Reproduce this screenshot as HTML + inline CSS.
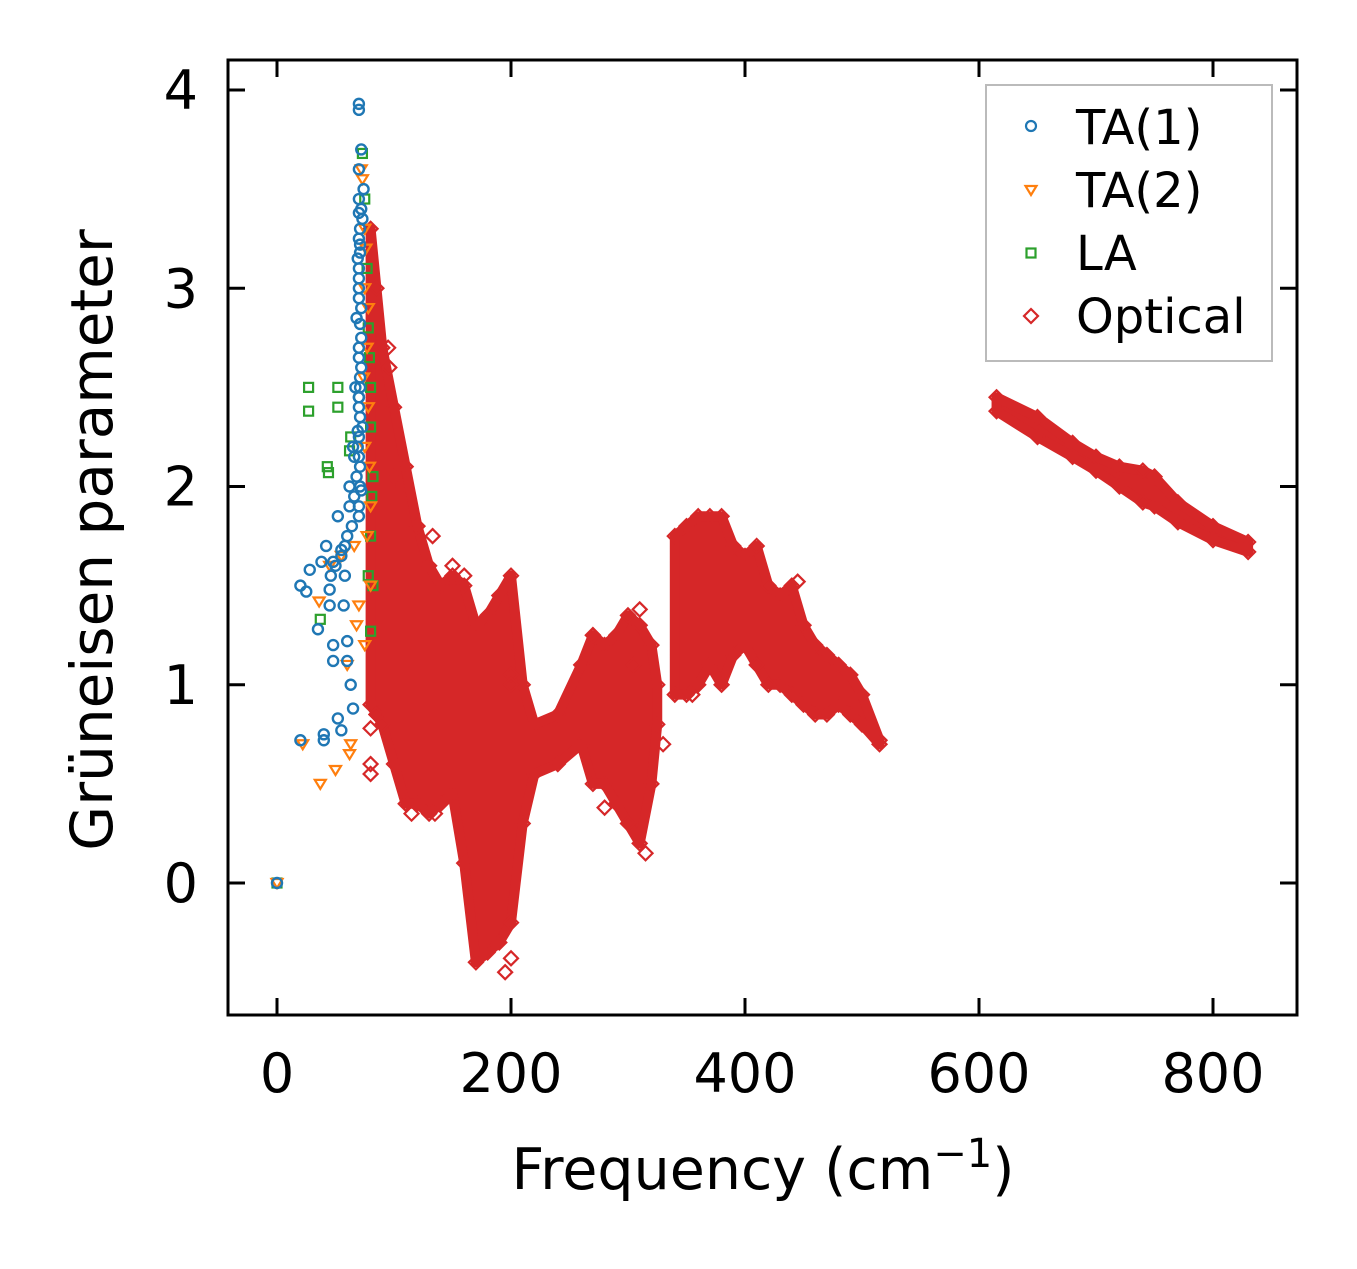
<!DOCTYPE html>
<html><head><meta charset="utf-8">
<style>
html,body{margin:0;padding:0;background:#fff;}
svg text{font-family:"DejaVu Sans","Liberation Sans",sans-serif;fill:#000;}
</style></head>
<body>
<svg id="chart" width="1357" height="1264" viewBox="0 0 1357 1264" xmlns="http://www.w3.org/2000/svg">
<g id="marks"></g>
<g id="axes"></g>
</svg>
<script>
const xTicks=[0,200,400,600,800];
const yTicks=[0,1,2,3,4];
const ta1F=[0,20,20,25,28,35,38,40,40,42,45,45,48,48,48,52,52,55,55,57,58,60,60,62,63,65,65,67,68,70,70,70,70,72,72,72,73,71,70,72,74,70,71,69,70,72,71,70,69,68,66,64,60,58,55,50,46,62,66,70,73,70,70,71,71,70,70,71,70,70,71,70,71,69,70,70,71,72,70];
const ta1G=[0,1.5,0.72,1.47,1.58,1.28,1.62,0.75,0.72,1.7,1.48,1.4,1.62,1.2,1.12,0.83,1.85,1.68,0.77,1.4,1.55,1.22,1.12,2.0,1.0,0.88,2.2,2.5,2.85,3.9,3.93,3.25,3.1,3.4,2.9,2.6,2.3,2.1,1.9,3.7,3.5,3.6,3.3,3.15,3.0,2.75,2.55,2.4,2.2,2.05,1.95,1.8,1.75,1.7,1.65,1.6,1.55,1.9,2.15,2.45,3.35,3.45,3.38,3.22,3.18,3.05,2.95,2.82,2.7,2.65,2.5,2.45,2.35,2.28,2.25,2.15,2.0,1.98,1.85];
const ta2F=[0,22,37,50,62,63,36,45,55,68,72,73,75,75,77,78,75,80,80,70,75,78,76,74,79,77,60,66];
const ta2G=[0,0.7,0.5,0.57,0.65,0.7,1.42,1.6,1.65,1.3,3.6,3.55,3.3,3.0,2.7,2.4,2.2,1.9,1.5,1.4,1.2,2.9,3.2,2.55,2.1,1.75,1.1,1.7];
const laF=[0,27,27,52,52,43,44,37,62,63,73,75,77,78,80,80,82,80,82,80,78,79,81];
const laG=[0,2.5,2.38,2.5,2.4,2.1,2.07,1.33,2.18,2.25,3.68,3.45,3.1,2.8,2.5,2.3,2.05,1.75,1.5,1.27,1.55,2.65,1.95];
const optBands=[
 {f:[80,85,90,100,110,120,130,140,150,160,170,180,190,200,210,220,240,260,270,280,290,300,310,320,325],
  lo:[0.9,0.85,0.8,0.6,0.4,0.4,0.35,0.4,0.45,0.1,-0.4,-0.35,-0.3,-0.2,0.3,0.55,0.6,0.7,0.5,0.5,0.4,0.3,0.2,0.5,0.8],
  hi:[3.3,3.0,2.7,2.4,2.1,1.8,1.6,1.5,1.55,1.5,1.3,1.35,1.45,1.55,1.0,0.8,0.85,1.1,1.25,1.2,1.25,1.35,1.3,1.2,1.0]},
 {f:[340,350,360,370,380,390,400,410,420,430,440,450,460,470,480,490,500,515],
  lo:[0.95,0.95,1.0,1.1,1.0,1.15,1.2,1.1,1.0,1.0,0.95,0.9,0.85,0.85,0.9,0.85,0.8,0.7],
  hi:[1.75,1.8,1.85,1.85,1.85,1.7,1.65,1.7,1.5,1.45,1.5,1.3,1.2,1.15,1.1,1.05,0.95,0.72]},
 {f:[615,650,680,700,720,740,750,770,800,830],
  lo:[2.38,2.25,2.15,2.08,2.0,1.92,1.9,1.82,1.73,1.67],
  hi:[2.45,2.35,2.22,2.15,2.1,2.08,2.05,1.92,1.8,1.72]}
];
const optOutF=[80,80,95,96,120,133,150,160,310,200,115,135,195,200,315,280,355,445,200,80,330,85,100,108,270,305];
const optOutG=[0.55,0.6,2.7,2.6,1.8,1.75,1.6,1.55,1.38,1.05,0.35,0.35,-0.45,-0.38,0.15,0.38,0.95,1.52,1.0,0.78,0.7,0.85,2.05,2.0,1.25,1.1];

const X0=228,X1=1297,Y0=60,Y1=1015;
function xs(v){return 277+v*1.17;}
function ys(v){return 883-v*198.25;}
const NS="http://www.w3.org/2000/svg";
const marks=document.getElementById('marks');
const axes=document.getElementById('axes');
function mk(tag,attrs,parent){const e=document.createElementNS(NS,tag);for(const k in attrs)e.setAttribute(k,attrs[k]);parent.appendChild(e);return e;}
const RED='#d62728',BLUE='#1f77b4',ORANGE='#ff7f0e',GREEN='#2ca02c';
function diamond(cx,cy,c,p){const s=7;return mk('polygon',{points:`${cx},${cy-s} ${cx+s},${cy} ${cx},${cy+s} ${cx-s},${cy}`,fill:'none',stroke:c,'stroke-width':2.2},p);}
function circle(cx,cy,c,p){return mk('circle',{cx:cx,cy:cy,r:5,fill:'none',stroke:c,'stroke-width':2.4},p);}
function tri(cx,cy,c,p){return mk('polygon',{points:`${cx-5.5},${cy-4} ${cx+5.5},${cy-4} ${cx},${cy+5}`,fill:'none',stroke:c,'stroke-width':2.2},p);}
function sq(cx,cy,c,p){return mk('rect',{x:cx-4.5,y:cy-4.5,width:9,height:9,fill:'none',stroke:c,'stroke-width':2.2},p);}

optBands.forEach((b,bi)=>{
  let pts=[];
  for(let i=0;i<b.f.length;i++)pts.push(xs(b.f[i])+','+ys(b.hi[i]));
  for(let i=b.f.length-1;i>=0;i--)pts.push(xs(b.f[i])+','+ys(b.lo[i]));
  const poly=mk('polygon',{points:pts.join(' '),fill:RED,stroke:RED,'stroke-width':10,'stroke-linejoin':'round'},marks);
  
  
  for(let i=0;i<b.f.length;i++){
    const d1=diamond(xs(b.f[i]),ys(b.hi[i]),RED,marks);
    
    
    const d2=diamond(xs(b.f[i]),ys(b.lo[i]),RED,marks);
    
    
  }
});
for(let i=0;i<optOutF.length;i++){
  const d=diamond(xs(optOutF[i]),ys(optOutG[i]),RED,marks);
  
  
}
for(let i=0;i<laF.length;i++){
  const e=sq(xs(laF[i]),ys(laG[i]),GREEN,marks);
  
  
}
for(let i=0;i<ta2F.length;i++){
  const e=tri(xs(ta2F[i]),ys(ta2G[i]),ORANGE,marks);
  
  
}
for(let i=0;i<ta1F.length;i++){
  const e=circle(xs(ta1F[i]),ys(ta1G[i]),BLUE,marks);
  
  
}

const fr=mk('rect',{x:X0,y:Y0,width:X1-X0,height:Y1-Y0,fill:'none',stroke:'#000','stroke-width':3},axes);


xTicks.forEach(t=>{
  const x=xs(t);
  mk('line',{x1:x,y1:Y1,x2:x,y2:Y1-17,stroke:'#000','stroke-width':3},axes);
  mk('line',{x1:x,y1:Y0,x2:x,y2:Y0+17,stroke:'#000','stroke-width':3},axes);
  const tx=mk('text',{x:x,y:1092,'font-size':54,'text-anchor':'middle'},axes);
  tx.textContent=t;
  
  
});
yTicks.forEach(t=>{
  const y=ys(t);
  mk('line',{x1:X0,y1:y,x2:X0+17,y2:y,stroke:'#000','stroke-width':3},axes);
  mk('line',{x1:X1,y1:y,x2:X1-17,y2:y,stroke:'#000','stroke-width':3},axes);
  const tx=mk('text',{x:198,y:y+19,'font-size':54,'text-anchor':'end'},axes);
  tx.textContent=t;
  
  
});
</script>
<svg style="position:absolute;left:0;top:0" width="1357" height="1264">
<text x="763" y="1189" font-size="57" text-anchor="middle" style="font-family:'DejaVu Sans','Liberation Sans',sans-serif">Frequency (cm<tspan dy="-22" font-size="40">−1</tspan><tspan dy="22">)</tspan></text>
<text transform="translate(112,540) rotate(-90)" font-size="58" text-anchor="middle" style="font-family:'DejaVu Sans','Liberation Sans',sans-serif">Grüneisen parameter</text>
<g>
<rect x="986" y="85" width="286" height="276" fill="#fff" fill-opacity="0.8" stroke="#bbb" stroke-width="2"/>
<g><circle cx="1031" cy="126" r="5" fill="none" stroke="#1f77b4" stroke-width="2.2"/><text x="1076" y="144" font-size="48" style="font-family:'DejaVu Sans','Liberation Sans',sans-serif">TA(1)</text></g>
<g><polygon points="1025.5,186 1036.5,186 1031,195" fill="none" stroke="#ff7f0e" stroke-width="2.2"/><text x="1076" y="207" font-size="48" style="font-family:'DejaVu Sans','Liberation Sans',sans-serif">TA(2)</text></g>
<g><rect x="1026.5" y="248.5" width="9" height="9" fill="none" stroke="#2ca02c" stroke-width="2.2"/><text x="1076" y="270" font-size="48" style="font-family:'DejaVu Sans','Liberation Sans',sans-serif">LA</text></g>
<g><polygon points="1031,309 1038,316 1031,323 1024,316" fill="none" stroke="#d62728" stroke-width="2.2"/><text x="1076" y="333" font-size="48" style="font-family:'DejaVu Sans','Liberation Sans',sans-serif">Optical</text></g>
</g>
</svg>
</body></html>
